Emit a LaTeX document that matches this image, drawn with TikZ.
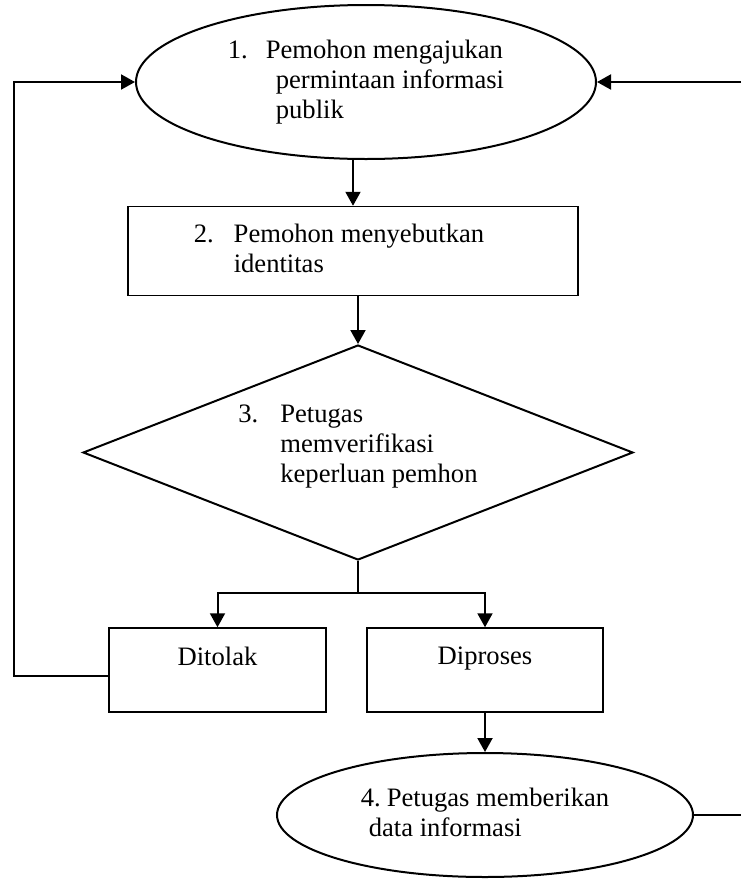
\documentclass[tikz,border=0pt]{standalone}
\usepackage{fontspec}
\setmainfont{Liberation Serif}
\usetikzlibrary{arrows.meta,shapes.geometric,positioning,calc}

\begin{document}
\begin{tikzpicture}[>={Triangle[length=7pt,width=7.5pt]}, on grid,
      font=\fontsize{13.3}{15}\selectfont, line width=1pt,
      terminal/.style={ellipse, draw, inner sep=0pt},
      kotak/.style={rectangle, draw, inner sep=0pt, line width=0.75pt},
      putusan/.style={diamond, draw, inner sep=0pt, shape aspect=2.56},
      hasil/.style={kotak, minimum height=42pt, text depth=14pt}]
  \useasboundingbox (0,0) rectangle (370.5pt,-439.5pt);
  \coordinate (lft) at (7pt,0);
  \coordinate (rgt) at (370.5pt,0);

  \node[terminal, minimum width=230pt, minimum height=77pt] (minta) at (183pt,-41pt)
    {\begin{tabular}{@{}l@{\hspace{9pt}}l@{}}1. & Pemohon mengajukan\\
      & \hspace{5pt}permintaan informasi\\ & \hspace{5pt}publik\end{tabular}};
  \node[kotak, minimum width=225pt, minimum height=44.5pt,
        below left=84.5pt and 6.5pt of minta] (identitas)
    {\begin{tabular}{@{}l@{\hspace{10pt}}l@{\hspace{14pt}}}2. & Pemohon menyebutkan\\
      & identitas\end{tabular}};
  \node[putusan, minimum width=275pt, minimum height=107.5pt,
        below right=100.75pt and 2.5pt of identitas] (verifikasi)
    {\begin{tabular}{@{}l@{\hspace{11pt}}l@{}}3. & Petugas\\ & memverifikasi\\
      & keperluan pemhon\\[6pt]\end{tabular}};
  \node[hasil, minimum width=108.5pt,
        below left=108.75pt and 70.25pt of verifikasi] (tolak) {Ditolak};
  \node[hasil, minimum width=118pt, right=133.75pt of tolak] (proses) {Diproses};
  \node[terminal, minimum width=208pt, minimum height=62pt,
        below=72.5pt of proses] (beri)
    {\begin{tabular}{@{}l@{}}4.\hspace{3pt}Petugas memberikan\\
      \hspace{4pt}data informasi\end{tabular}};

  % alur utama
  \draw[->] (identitas.north |- minta.south) -- (identitas.north);
  \draw[->] (identitas.south -| verifikasi.north) -- (verifikasi.north);
  \draw (verifikasi.south) -- ++(0,-16pt) coordinate (cabang);
  \draw[->] (cabang) -| (tolak.north);
  \draw[->] (cabang) -| (proses.north);
  \draw[->] (proses) -- (beri);

  % kembali ke permohonan
  \draw[->] ([yshift=-3pt]tolak.west) -| (lft |- minta.west) -- (minta.west);
  \draw[->] (rgt |- minta.east) -- (minta.east);
  \draw (beri.east) -- (rgt |- beri.east);
\end{tikzpicture}
\end{document}
